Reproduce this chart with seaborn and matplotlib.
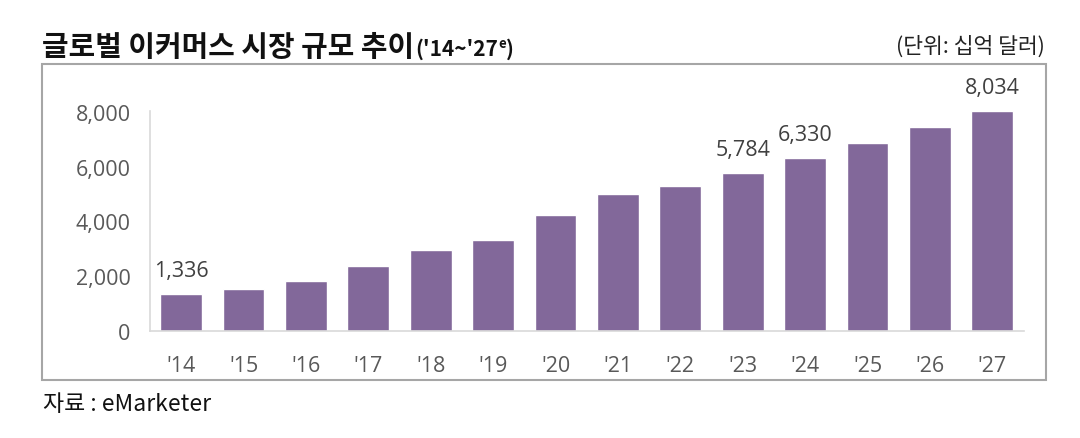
import matplotlib
matplotlib.use("Agg")
import matplotlib.pyplot as plt
import matplotlib.patches as patches
import seaborn as sns
import pandas as pd

years = ["'14", "'15", "'16", "'17", "'18", "'19", "'20", "'21", "'22", "'23", "'24", "'25", "'26", "'27"]
values = [1336, 1520, 1830, 2360, 2945, 3310, 4240, 4990, 5280, 5784, 6330, 6860, 7450, 8034]
labeled = ["'14", "'23", "'24", "'27"]
yticks = [0, 2000, 4000, 6000, 8000]

title_main = "글로벌 이커머스 시장 규모 추이"
title_paren = "('14~'27"
title_sup = "e"
title_close = ")"
unit_text = "(단위: 십억 달러)"
source_text = "자료 : eMarketer"

sns.set_theme(style="white")
plt.rcParams["font.family"] = ["Open Sans", "Noto Sans CJK KR", "DejaVu Sans"]

W, H = 1080, 439
fig = plt.figure(figsize=(W / 100, H / 100), dpi=100)
ax = fig.add_axes([150 / W, 1 - 332 / H, (1023.5 - 150) / W, (332 - 111.7) / H])

df = pd.DataFrame({"year": years, "value": values})
sns.barplot(data=df, x="year", y="value", color="#82689A", saturation=1, width=0.67, ax=ax)

ax.set_xlim(-0.5, len(years) - 0.5)
ax.set_ylim(0, 8046)
ax.set_yticks(yticks)
ax.set_yticklabels([f"{v:,}" for v in yticks])
ax.set_xlabel("")
ax.set_ylabel("")
for s in ["top", "right"]:
    ax.spines[s].set_visible(False)
for s in ["left", "bottom"]:
    ax.spines[s].set_color("#d9d9d9")
    ax.spines[s].set_linewidth(1.2)
ax.tick_params(axis="both", length=0, labelsize=15.5, colors="#595959")
ax.tick_params(axis="y", pad=14)
ax.tick_params(axis="x", pad=17)

for i, (y, v) in enumerate(zip(years, values)):
    if y in labeled:
        ax.annotate(f"{v:,}", (i, v), xytext=(0, 17), textcoords="offset points",
                    ha="center", va="center", fontsize=15.5, color="#404040")

# outer frame
fig.patches.append(patches.Rectangle((41.5 / W, 1 - 381 / H), (1046 - 41.5) / W, (381 - 65) / H,
                                     transform=fig.transFigure, fill=False,
                                     edgecolor="#a6a6a6", linewidth=1.5))

# title
kfam = ["Noto Sans CJK KR", "DejaVu Sans"]
base_y = 1 - 56 / H
t1 = fig.text(42 / W, base_y, title_main, fontsize=20.8, fontweight="bold", family=kfam,
              va="baseline", ha="left", color="#111111")
fig.canvas.draw()
r = fig.canvas.get_renderer()
bb = t1.get_window_extent(r)
x = bb.x1 / W + 1 / W
t2 = fig.text(x, base_y, title_paren, fontsize=15, fontweight="bold", family=kfam,
              va="baseline", ha="left", color="#111111")
bb2 = t2.get_window_extent(r)
t3 = fig.text(bb2.x1 / W, base_y + 8 / H, title_sup, fontsize=9.5, fontweight="bold", family=kfam,
              va="baseline", ha="left", color="#111111")
bb3 = t3.get_window_extent(r)
fig.text(bb3.x1 / W, base_y, title_close, fontsize=15, fontweight="bold", family=kfam,
         va="baseline", ha="left", color="#111111")

fig.text(1045 / W, 1 - 46.7 / H, unit_text, fontsize=15.5, family=kfam,
         va="center", ha="right", color="#222222")
fig.text(43 / W, 1 - 405 / H, source_text, fontsize=16.5, family=["Noto Sans CJK KR", "DejaVu Sans"],
         va="center", ha="left", color="#111111")

fig.savefig("out.png", dpi=100, facecolor="white")
